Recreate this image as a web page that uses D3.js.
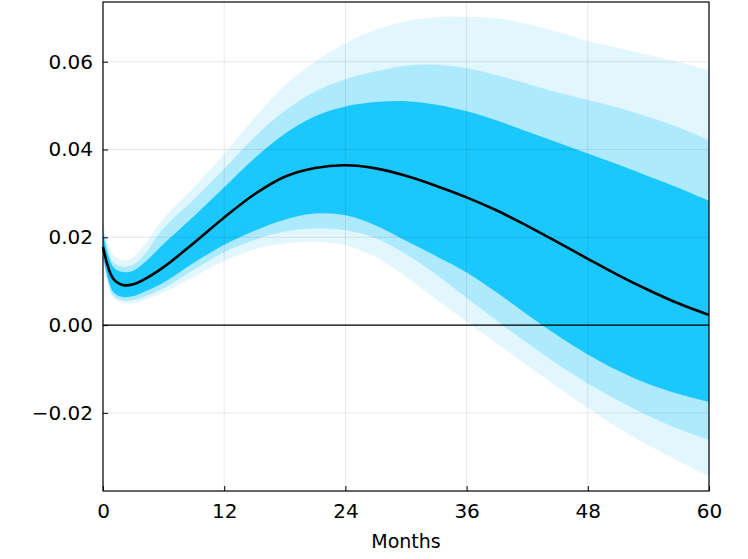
<!DOCTYPE html>
<html>
<head>
<meta charset="utf-8">
<script src="https://cdn.jsdelivr.net/npm/d3@7"></script>
<style>
  body { margin: 0; background: #fff; }
  text { font-family: "DejaVu Sans", sans-serif; fill: #000; }
</style>
</head>
<body>
<div id="chart"></div>
<script>
// months with readings
const months = [0, 1, 2, 3, 4, 6, 9, 12, 15, 18, 21, 24, 27, 30, 33, 36, 39, 42, 45, 48, 51, 54, 57, 60];
const median = [0.0178, 0.0106, 0.0091, 0.0093, 0.0103, 0.0132, 0.0187, 0.0245, 0.0298, 0.0338, 0.0358, 0.0364, 0.0357, 0.0340, 0.0317, 0.0291, 0.0261, 0.0226, 0.0189, 0.0151, 0.0114, 0.0080, 0.0049, 0.0023];
const innerHi = [0.0210, 0.0133, 0.0121, 0.0124, 0.0140, 0.0185, 0.0248, 0.0314, 0.0380, 0.0436, 0.0476, 0.0498, 0.0508, 0.0510, 0.0502, 0.0487, 0.0466, 0.0441, 0.0416, 0.0391, 0.0366, 0.0339, 0.0312, 0.0283];
const innerLo = [0.0160, 0.0076, 0.0064, 0.0066, 0.0075, 0.0097, 0.0142, 0.0183, 0.0215, 0.0240, 0.0254, 0.0250, 0.0227, 0.0192, 0.0157, 0.0120, 0.0074, 0.0024, -0.0024, -0.0067, -0.0104, -0.0134, -0.0157, -0.0175];
const midHi = [0.0221, 0.0144, 0.0133, 0.0138, 0.0158, 0.0221, 0.0286, 0.0356, 0.0428, 0.0488, 0.0532, 0.0560, 0.0578, 0.0591, 0.0593, 0.0585, 0.0569, 0.0550, 0.0530, 0.0513, 0.0495, 0.0474, 0.0450, 0.0421];
const midLo = [0.0155, 0.0068, 0.0056, 0.0057, 0.0064, 0.0084, 0.0126, 0.0166, 0.0194, 0.0213, 0.0220, 0.0216, 0.0198, 0.0162, 0.0115, 0.0062, 0.0010, -0.0041, -0.0089, -0.0133, -0.0172, -0.0207, -0.0237, -0.0262];
const outerHi = [0.0239, 0.0160, 0.0148, 0.0155, 0.0180, 0.0243, 0.0314, 0.0390, 0.0472, 0.0545, 0.0600, 0.0642, 0.0672, 0.0692, 0.0701, 0.0702, 0.0699, 0.0686, 0.0668, 0.0647, 0.0631, 0.0615, 0.0599, 0.0581];
const outerLo = [0.0150, 0.0062, 0.0050, 0.0050, 0.0056, 0.0074, 0.0110, 0.0146, 0.0173, 0.0186, 0.0190, 0.0182, 0.0155, 0.0110, 0.0058, 0.0008, -0.0042, -0.0092, -0.0141, -0.0189, -0.0234, -0.0274, -0.0310, -0.0345];

const xTicks = [0, 12, 24, 36, 48, 60];
const yTicks = [-0.02, 0.00, 0.02, 0.04, 0.06];

const width = 748, height = 559;
const margin = { left: 103, right: 39, top: 2, bottom: 68 };

const svg = d3.select("#chart").append("svg")
  .attr("width", width)
  .attr("height", height);

const x = d3.scaleLinear().domain([0, 60]).range([margin.left, width - margin.right]);
const y = d3.scaleLinear().domain([-0.0378, 0.0736]).range([height - margin.bottom, margin.top]);

const rows = months.map((m, i) => ({
  m, med: median[i],
  iLo: innerLo[i], iHi: innerHi[i],
  mLo: midLo[i], mHi: midHi[i],
  oLo: outerLo[i], oHi: outerHi[i]
}));

const curve = d3.curveCatmullRom.alpha(0.5);

const band = (lo, hi) => d3.area()
  .x(d => x(d.m))
  .y0(d => y(d[lo]))
  .y1(d => y(d[hi]))
  .curve(curve);

const plot = svg.append("g");

plot.append("path").datum(rows).attr("d", band("oLo", "oHi")).attr("fill", "#e2f6fe");
plot.append("path").datum(rows).attr("d", band("mLo", "mHi")).attr("fill", "#aeeafd");
plot.append("path").datum(rows).attr("d", band("iLo", "iHi")).attr("fill", "#1bc8fe");

// grid
const grid = svg.append("g").attr("stroke", "rgba(0,0,0,0.09)").attr("stroke-width", 1);
grid.selectAll(".gx").data(xTicks).enter().append("line")
  .attr("x1", d => x(d)).attr("x2", d => x(d))
  .attr("y1", y.range()[1]).attr("y2", y.range()[0]);
grid.selectAll(".gy").data(yTicks).enter().append("line")
  .attr("x1", x.range()[0]).attr("x2", x.range()[1])
  .attr("y1", d => y(d)).attr("y2", d => y(d));

// zero line
svg.append("line")
  .attr("x1", x.range()[0]).attr("x2", x.range()[1])
  .attr("y1", y(0)).attr("y2", y(0))
  .attr("stroke", "#000").attr("stroke-width", 1.2);

// median
svg.append("path").datum(rows)
  .attr("d", d3.line().x(d => x(d.m)).y(d => y(d.med)).curve(curve))
  .attr("fill", "none")
  .attr("stroke", "#000")
  .attr("stroke-width", 2.6);

// frame
svg.append("rect")
  .attr("x", x.range()[0]).attr("y", y.range()[1])
  .attr("width", x.range()[1] - x.range()[0])
  .attr("height", y.range()[0] - y.range()[1])
  .attr("fill", "none").attr("stroke", "#000").attr("stroke-width", 1.2);

// axes
const xAxis = svg.append("g")
  .attr("transform", `translate(0,${y.range()[0]})`)
  .call(d3.axisBottom(x).tickValues(xTicks).tickSize(-5).tickPadding(13).tickFormat(d3.format("d")));
xAxis.select(".domain").remove();
xAxis.selectAll("text").style("font-size", "20px");

const yAxis = svg.append("g")
  .attr("transform", `translate(${x.range()[0]},0)`)
  .call(d3.axisLeft(y).tickValues(yTicks).tickSize(-5).tickPadding(10).tickFormat(d3.format(".2f")));
yAxis.select(".domain").remove();
yAxis.selectAll("text").style("font-size", "20px");

svg.append("text")
  .attr("x", (x.range()[0] + x.range()[1]) / 2)
  .attr("y", 548)
  .attr("text-anchor", "middle")
  .style("font-size", "19px")
  .text("Months");
</script>
</body>
</html>
